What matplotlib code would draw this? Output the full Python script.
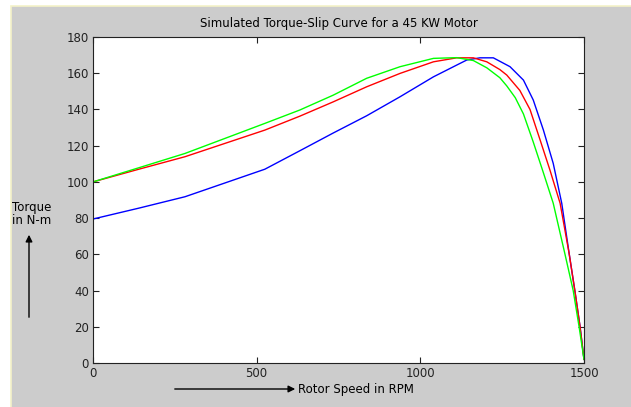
import matplotlib
matplotlib.use('Agg')
import matplotlib.pyplot as plt
from matplotlib.patches import Rectangle, FancyArrowPatch

# ------------------------------------------------------------
# Torque-slip curves (rpm, N-m)
speed_blue = [0, 140, 281, 525, 632, 734, 836, 938, 1040, 1121, 1142, 1182, 1223,
              1274, 1315, 1345, 1376, 1406, 1432, 1455, 1472, 1488, 1500]
torque_blue = [79.5, 85.5, 91.8, 107, 117.2, 127, 136.5, 147, 158, 165.4, 167.3, 168.5, 168.5,
               163.6, 156.2, 145.2, 128.6, 110.2, 88.2, 60, 40, 20, 2]

speed_red = [0, 140, 281, 525, 632, 734, 836, 938, 1040, 1111, 1162, 1203, 1243,
             1264, 1304, 1335, 1366, 1396, 1427, 1455, 1472, 1488, 1500]
torque_red = [100, 107, 113.9, 128.6, 136.3, 144.2, 152.5, 159.9, 166.3, 168.5, 168.5, 166.3, 162,
              159, 150.5, 140, 123.1, 106.5, 88.2, 60, 40, 20, 2]

speed_green = [0, 140, 281, 525, 632, 734, 836, 938, 1040, 1111, 1162, 1203, 1243,
               1264, 1290, 1315, 1345, 1376, 1406, 1442, 1467, 1485, 1500]
torque_green = [100, 107.8, 115.7, 132.3, 139.7, 147.9, 157.2, 163.6, 168.2, 168.6, 167, 163, 157.5,
                153, 146.5, 137.5, 122, 105, 88.2, 60, 40, 20, 2]

xticks = [0, 500, 1000, 1500]
yticks = list(range(0, 181, 20))

W, H = 631, 407
def fx(px):
    return px / W
def fy(py):
    return 1 - py / H

plt.rcParams['font.family'] = ['DejaVu Sans']
FS = 8.5

fig = plt.figure(figsize=(W / 100, H / 100), dpi=100)
fig.patch.set_facecolor('white')
# gray MATLAB figure panel, faint yellow edge on top/left only
fig.patches.append(Rectangle((fx(11), -0.05), 1.1, fy(6) + 0.05, transform=fig.transFigure,
                             facecolor='#cccccc', edgecolor='#f4f2c8', linewidth=1.2, zorder=-5))

ax = fig.add_axes([fx(93), fy(363), fx(584) - fx(93), fy(37) - fy(363)])
ax.set_zorder(2)
ax.plot(speed_blue, torque_blue, color='#0000ff', lw=1)
ax.plot(speed_red, torque_red, color='#ff0000', lw=1)
ax.plot(speed_green, torque_green, color='#00ff00', lw=1)

ax.set_xlim(0, 1500)
ax.set_ylim(0, 180)
ax.set_xticks(xticks)
ax.set_yticks(yticks)
ax.tick_params(direction='in', length=4, width=0.8, top=True, right=True,
               labelsize=FS, colors='#222222', pad=3)
for s in ax.spines.values():
    s.set_color('#222222')
    s.set_linewidth(0.8)

ax.set_title('Simulated Torque-Slip Curve for a 45 KW Motor', fontsize=FS, pad=7)

# y label with arrow
fig.text(fx(12), fy(214), 'Torque\nin N-m', fontsize=FS, ha='left', va='center', linespacing=1.1)
fig.patches.append(FancyArrowPatch((fx(29), fy(320)), (fx(29), fy(232)), transform=fig.transFigure,
                                   arrowstyle='-|>,head_length=4,head_width=2', color='black', lw=1))

# x label with arrow
fig.patches.append(FancyArrowPatch((fx(172), fy(389)), (fx(298), fy(389)), transform=fig.transFigure,
                                   arrowstyle='-|>,head_length=4,head_width=2', color='black', lw=1))
fig.text(fx(298), fy(389), 'Rotor Speed in RPM', fontsize=FS, ha='left', va='center')

fig.savefig('out.png', dpi=100)
